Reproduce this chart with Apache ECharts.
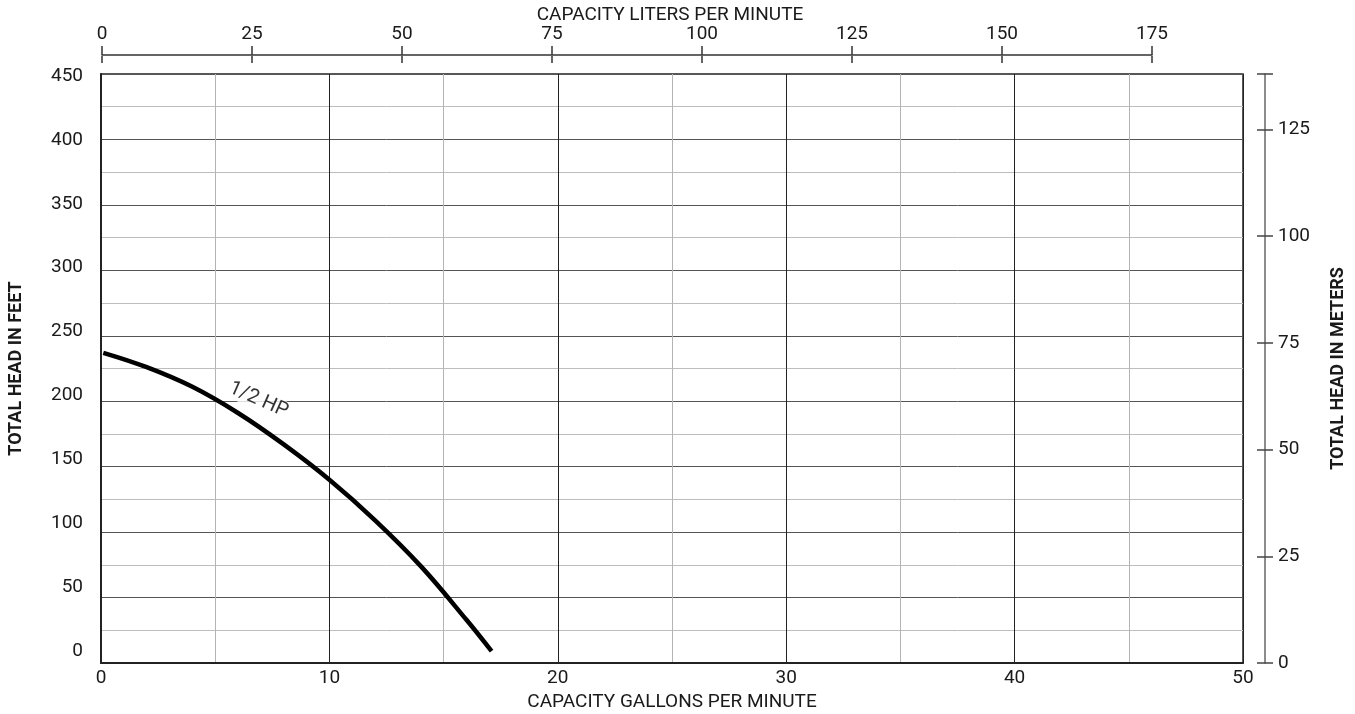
<!DOCTYPE html>
<html>
<head>
<meta charset="utf-8">
<script src="https://cdn.jsdelivr.net/npm/echarts@6/dist/echarts.min.js"></script>
<style>
html,body{margin:0;padding:0;background:#fff;}
#chart{width:1355px;height:714px;}
</style>
</head>
<body>
<div id="chart"></div>
<script>
// ---- data ----
const flowGpm = [0.1, 2, 4, 6, 8, 10, 12, 14, 16, 17.1];
const headFt  = [237, 226, 211, 191, 167, 140, 109, 74, 33, 9];
const curveName = '1/2 HP';
const curveLabelPos = [6.9, 201];
const feetLabels = [0, 50, 100, 150, 200, 250, 300, 350, 400, 450];
const lpmTicks = [0, 25, 50, 75, 100, 125, 150, 175];
const meterLabels = [0, 25, 50, 75, 100, 125];
const meterTickMarks = [0, 25, 50, 75, 100, 125, 138];
const xTitle = 'CAPACITY GALLONS PER MINUTE';
const topTitle = 'CAPACITY LITERS PER MINUTE';
const yTitle = 'TOTAL HEAD IN FEET';
const y2Title = 'TOTAL HEAD IN METERS';

const FONT = 'Roboto';
const TXT = '#1a1a1a';

const chart = echarts.init(document.getElementById('chart'), null, {renderer: 'canvas'});

const option = {
  animation: false,
  textStyle: {fontFamily: FONT, color: TXT},
  title: {
    text: topTitle, left: 665, top: 1, textAlign: 'center',
    textStyle: {fontFamily: FONT, fontSize: 19, fontWeight: 'normal', color: TXT}
  },
  grid: [
    {left: 101, top: 74, right: 112, bottom: 51, containLabel: false, outerBoundsMode: 'none',
     show: true, borderColor: '#222', borderWidth: 1.5, backgroundColor: 'transparent'},
    {left: 102, top: 55, right: 203, height: 1, containLabel: false, outerBoundsMode: 'none', show: false}
  ],
  xAxis: [
    {
      gridIndex: 0, type: 'value', min: 0, max: 50, interval: 10, position: 'bottom',
      axisLine: {show: true, lineStyle: {color: '#222', width: 2}},
      axisTick: {show: false},
      axisLabel: {fontFamily: FONT, fontSize: 19, color: TXT, margin: 6},
      splitLine: {show: true, lineStyle: {color: '#222', width: 1}},
      minorTick: {show: false, splitNumber: 2},
      minorSplitLine: {show: true, lineStyle: {color: '#b4b4b4', width: 1}},
      name: xTitle, nameLocation: 'middle', nameGap: 21,
      nameTextStyle: {fontFamily: FONT, fontSize: 19, color: TXT}
    },
    {
      gridIndex: 1, type: 'value', min: 0, max: 175, position: 'top',
      axisLine: {show: true, onZero: false, lineStyle: {color: '#333', width: 1.5}},
      axisTick: {show: true, length: 9, lineStyle: {color: '#333', width: 1.5}, customValues: lpmTicks},
      axisLabel: {fontFamily: FONT, fontSize: 19, color: TXT, margin: 11, customValues: lpmTicks},
      splitLine: {show: false}
    },
    {
      gridIndex: 1, type: 'value', min: 0, max: 175, position: 'top',
      axisLine: {show: false},
      axisTick: {show: true, inside: true, length: 7, lineStyle: {color: '#333', width: 1.5}, customValues: lpmTicks},
      axisLabel: {show: false},
      splitLine: {show: false}
    }
  ],
  yAxis: [
    {
      gridIndex: 0, type: 'value', min: 0, max: 450, interval: 50, position: 'left',
      axisLine: {show: true, lineStyle: {color: '#222', width: 2}},
      axisTick: {show: false},
      axisLabel: {show: false},
      splitLine: {show: true, lineStyle: {color: '#555', width: 1}},
      minorTick: {show: false, splitNumber: 2},
      minorSplitLine: {show: true, lineStyle: {color: '#bdbdbd', width: 1}},
      name: yTitle, nameLocation: 'middle', nameGap: 76, nameRotate: 90,
      nameTextStyle: {fontFamily: FONT, fontSize: 18, fontWeight: 'bold', color: TXT}
    },
    {
      gridIndex: 0, type: 'value', min: 0, max: 138, position: 'right', offset: 22,
      axisLine: {show: true, lineStyle: {color: '#666', width: 1.5}},
      axisTick: {show: true, length: 8, lineStyle: {color: '#444', width: 1.5}, customValues: meterTickMarks},
      axisLabel: {fontFamily: FONT, fontSize: 19, color: TXT, margin: 13, customValues: meterLabels},
      splitLine: {show: false},
      name: y2Title, nameLocation: 'middle', nameGap: 64, nameRotate: 90,
      nameTextStyle: {fontFamily: FONT, fontSize: 18, fontWeight: 'bold', color: TXT}
    },
    {
      gridIndex: 0, type: 'value', min: 0, max: 138, position: 'right', offset: 22,
      axisLine: {show: false},
      axisTick: {show: true, inside: true, length: 8, lineStyle: {color: '#444', width: 1.5}, customValues: meterTickMarks},
      axisLabel: {show: false},
      splitLine: {show: false}
    },
    {
      gridIndex: 1, type: 'value', show: false
    },
    {
      // label-only axis: the printed feet labels sit on a slightly tighter scale than the grid
      gridIndex: 0, type: 'value', min: -9.4, max: 451.6, position: 'left',
      axisLine: {show: false}, axisTick: {show: false}, splitLine: {show: false},
      axisLabel: {fontFamily: FONT, fontSize: 19, color: TXT, margin: 18, customValues: feetLabels}
    }
  ],
  series: [
    {
      name: curveName, type: 'line', xAxisIndex: 0, yAxisIndex: 0,
      data: flowGpm.map((x, i) => [x, headFt[i]]),
      smooth: 0.4, showSymbol: false, symbol: 'none',
      lineStyle: {color: '#000', width: 4.5, cap: 'butt'}
    },
    {
      name: 'label', type: 'scatter', xAxisIndex: 0, yAxisIndex: 0,
      data: [curveLabelPos], symbolSize: 0, silent: true,
      label: {
        show: true, position: 'inside', formatter: curveName, rotate: -24,
        fontFamily: FONT, fontSize: 20, color: '#000', textBorderWidth: 0,
        backgroundColor: '#fff', padding: [0, 6]
      }
    },
    {
      type: 'line', xAxisIndex: 1, yAxisIndex: 3, data: [], silent: true
    }
  ]
};
chart.setOption(option);
</script>
</body>
</html>
